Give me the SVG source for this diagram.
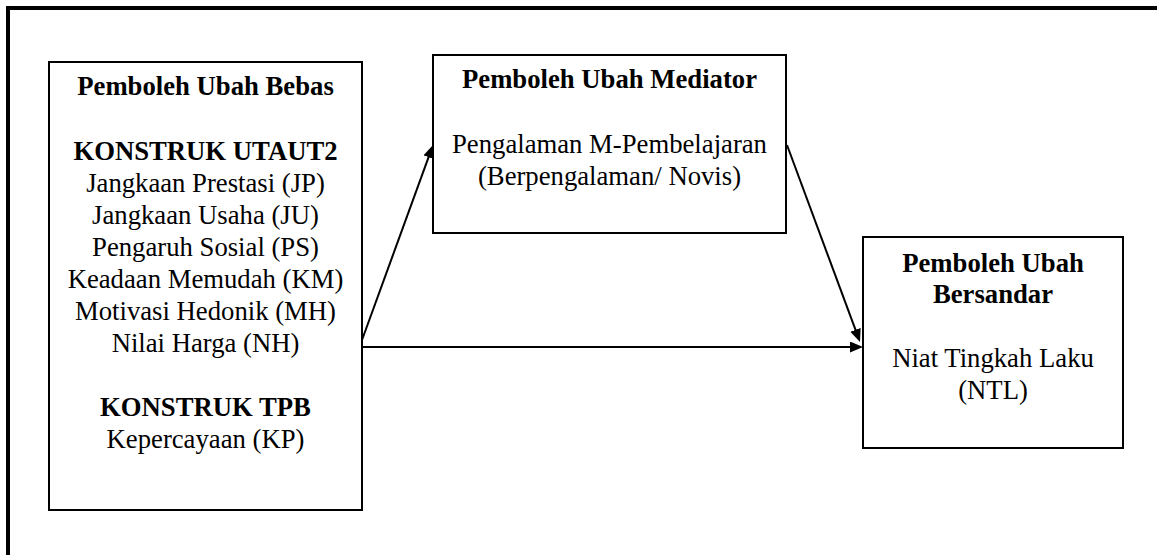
<svg xmlns="http://www.w3.org/2000/svg" width="1157" height="555" viewBox="0 0 1157 555">
<style>
.box{fill:#fff;stroke:#000;stroke-width:2}
text{font-family:'Liberation Serif','Times New Roman',Tinos,'DejaVu Serif',serif;font-size:26.7px;fill:#000;text-anchor:middle}
.b{font-weight:bold}
.c{stroke:#000;stroke-width:2;fill:none}
</style>
<defs>
<marker id="ah" markerUnits="userSpaceOnUse" markerWidth="14" markerHeight="12" refX="10" refY="5.5" orient="auto">
<path d="M0,0 L13,5.5 L0,11 z" fill="#000"/>
</marker>
</defs>
<rect width="1157" height="555" fill="#fff"/>
<polyline points="8,555 8,8 1157,8" fill="none" stroke="#000" stroke-width="4"/>
<g id="bebas" font-family="Liberation Serif, serif">
<rect class="box" x="49" y="62" width="313" height="448"/>
<text class="b" x="205.5" y="95">Pemboleh Ubah Bebas</text>
<text class="b" x="205.5" y="160">KONSTRUK UTAUT2</text>
<text x="205.5" y="192">Jangkaan Prestasi (JP)</text>
<text x="205.5" y="224">Jangkaan Usaha (JU)</text>
<text x="205.5" y="256">Pengaruh Sosial (PS)</text>
<text x="205.5" y="288">Keadaan Memudah (KM)</text>
<text x="205.5" y="320">Motivasi Hedonik (MH)</text>
<text x="205.5" y="352">Nilai Harga (NH)</text>
<text class="b" x="205.5" y="416">KONSTRUK TPB</text>
<text x="205.5" y="448">Kepercayaan (KP)</text>
</g>
<g id="mediator">
<rect class="box" x="433" y="55" width="353" height="178"/>
<text class="b" x="609.5" y="88">Pemboleh Ubah Mediator</text>
<text x="609.5" y="153">Pengalaman M-Pembelajaran</text>
<text x="609.5" y="185">(Berpengalaman/ Novis)</text>
</g>
<g id="bersandar">
<rect class="box" x="863" y="237" width="260" height="211"/>
<text class="b" x="993" y="272">Pemboleh Ubah</text>
<text class="b" x="993" y="303">Bersandar</text>
<text x="993" y="367">Niat Tingkah Laku</text>
<text x="993" y="399">(NTL)</text>
</g>
<g id="connectors">
<line class="c" x1="362" y1="340" x2="431.97" y2="147.82" marker-end="url(#ah)"/>
<line class="c" x1="362" y1="347" x2="860" y2="347" marker-end="url(#ah)"/>
<line class="c" x1="787" y1="145" x2="858.96" y2="339.19" marker-end="url(#ah)"/>
</g>
</svg>
